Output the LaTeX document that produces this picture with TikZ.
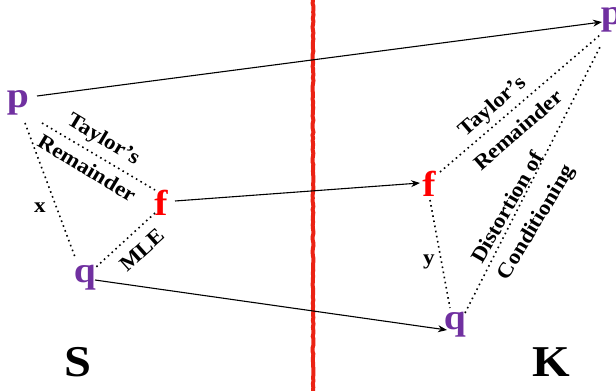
\documentclass[tikz,border=0pt]{standalone}
\usepackage{fontspec}
\setmainfont{Liberation Serif}[FakeStretch=1.1]
\usetikzlibrary{arrows.meta,decorations.pathmorphing}
\definecolor{vpurple}{RGB}{112,48,160}
\definecolor{vred}{RGB}{255,0,0}
\definecolor{wall}{RGB}{235,35,20}
\tikzset{
  big/.style={font=\fontsize{36}{36}\selectfont\bfseries, inner sep=1pt},
  pt/.style={big, text=vpurple},
  ft/.style={big, text=vred},
  side/.style={font=\fontsize{44}{44}\selectfont\bfseries, inner sep=0pt},
  lbl/.style={font=\fontsize{21}{21}\selectfont\bfseries, inner sep=0pt},
  dotline/.style={line width=1.6pt, dash pattern=on 1.6pt off 3.6pt},
  arr/.style={line width=1.1pt, -{Stealth[length=9pt,width=7pt]}},
}
\begin{document}
\begin{tikzpicture}[x=1pt,y=-1pt]
\useasboundingbox (0,0) rectangle (616,391);
% wall
\draw[wall, line width=4pt, decorate, decoration={random steps, segment length=3pt, amplitude=0.5pt}] (313,0) -- (313,391);
% nodes
\node[pt] (p1) at (18,103) {p};
\node[ft] (f1) at (161,203) {f};
\node[pt] (q1) at (85,278) {q};
\node[pt] (p2) at (612,20) {p};
\node[ft] (f2) at (429,184) {f};
\node[pt] (q2) at (455,325) {q};
\node[side] (S) at (78,362) {S};
\node[side] (K) at (551,362) {K};
% arrows
\draw[arr] ([shift={(19,-7)}]p1.center) -- ([shift={(-10,2)}]p2.center);
\draw[arr] ([shift={(14,-2)}]f1.center) -- ([shift={(-9,-1)}]f2.center);
\draw[arr] ([shift={(10,2)}]q1.center) -- ([shift={(-8,5)}]q2.center);
% dotted lines
\draw[dotline] ([shift={(24,20)}]p1.center) -- ([shift={(-6,-13)}]f1.center);
\draw[dotline] ([shift={(7,20)}]p1.center) -- ([shift={(-10,-21)}]q1.center);
\draw[dotline] ([shift={(-6,10)}]f1.center) -- ([shift={(10,-10)}]q1.center);
\draw[dotline] ([shift={(11,-12)}]f2.center) -- ([shift={(-12,15)}]p2.center);
\draw[dotline] ([shift={(1,16)}]f2.center) -- ([shift={(-5,-17)}]q2.center);
\draw[dotline] ([shift={(10,-12)}]q2.center) -- ([shift={(-12,27)}]p2.center);
% labels
\node[lbl, rotate=-31] (t1) at (103,140) {Taylor’s};
\node[lbl, rotate=-31] (r1) at (87,168) {Remainder};
\node[lbl, rotate=42] (m1) at (142,250) {MLE};
\node[lbl] (x1) at (40,208) {x};
\node[lbl, rotate=41] (t2) at (493,107) {Taylor’s};
\node[lbl, rotate=41] (r2) at (518,130) {Remainder};
\node[lbl, rotate=60] (d2) at (507,207) {Distortion of};
\node[lbl, rotate=59] (c2) at (537,223) {Conditioning};
\node[lbl] (y2) at (429,262) {y};
\end{tikzpicture}
\end{document}
